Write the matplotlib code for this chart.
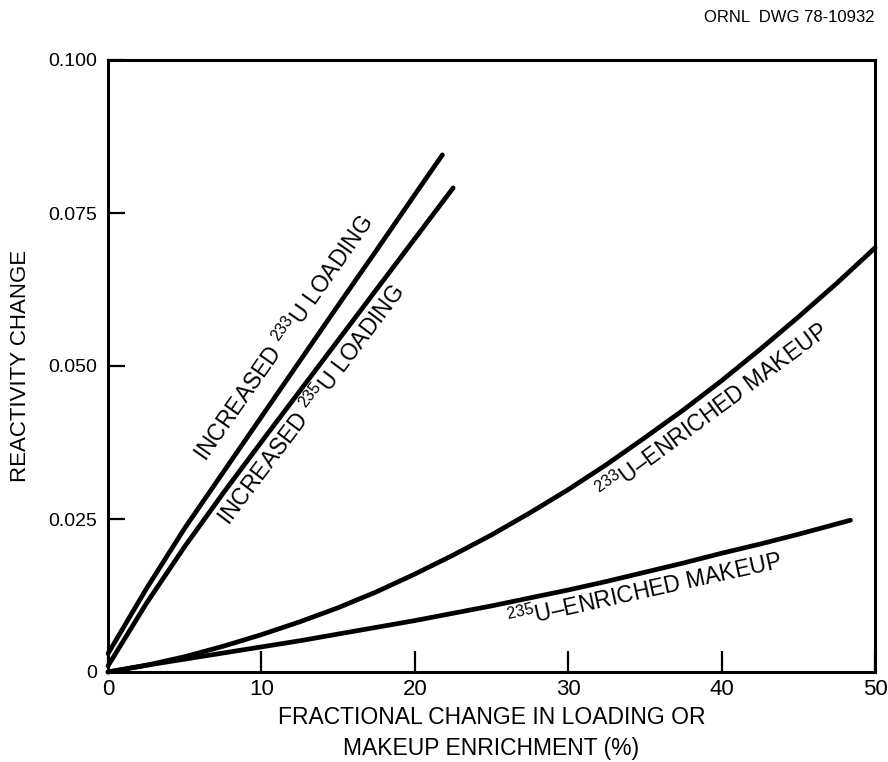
import matplotlib
matplotlib.use('Agg')
import matplotlib.pyplot as plt

# values
u233_load_x = [0, 2.5, 5, 7.5, 10, 12.5, 15, 17.5, 20, 21.8]
u233_load_y = [0.003, 0.0136, 0.0235, 0.0326, 0.0417, 0.0508, 0.0599, 0.0689, 0.0780, 0.0845]
u235_load_x = [0, 2.5, 5, 7.5, 10, 12.5, 15, 17.5, 20, 22.5]
u235_load_y = [0.001, 0.0112, 0.0205, 0.0292, 0.0376, 0.0459, 0.0542, 0.0625, 0.0708, 0.0791]
u233_mk_x = [0, 2.5, 5, 7.5, 10, 12.5, 15, 17.5, 20, 22.5, 25, 27.5, 30, 32.5,
             35, 37.5, 40, 42.5, 45, 47.5, 50]
u233_mk_y = [0, 0.0011, 0.0025, 0.0042, 0.0061, 0.0082, 0.0105, 0.0131, 0.0160,
             0.0191, 0.0224, 0.0260, 0.0298, 0.0339, 0.0383, 0.0428, 0.0476,
             0.0527, 0.0580, 0.0635, 0.0693]
u235_mk_x = [0, 2.5, 5, 7.5, 10, 12.5, 15, 17.5, 20, 22.5, 25, 27.5, 30, 32.5,
             35, 37.5, 40, 42.5, 45, 48.4]
u235_mk_y = [0, 0.0011, 0.0021, 0.0031, 0.0041, 0.0051, 0.0062, 0.0073, 0.0084,
             0.0096, 0.0108, 0.0121, 0.0134, 0.0148, 0.0163, 0.0178, 0.0194,
             0.0209, 0.0225, 0.0248]

x_ticks = [0, 10, 20, 30, 40, 50]
y_ticks = [0, 0.025, 0.050, 0.075, 0.100]
y_ticklabels = ['0', '0.025', '0.050', '0.075', '0.100']

plt.rcParams['font.family'] = ['Liberation Sans', 'DejaVu Sans']
plt.rcParams['mathtext.fontset'] = 'custom'
plt.rcParams['mathtext.rm'] = 'Liberation Sans'

fig = plt.figure(figsize=(8.88, 7.62), dpi=100)
ax = fig.add_axes([108 / 888, 1 - 672 / 762, (875 - 108) / 888, (672 - 60) / 762])

lw = 3.4
for xs, ys in [(u233_load_x, u233_load_y), (u235_load_x, u235_load_y),
               (u233_mk_x, u233_mk_y), (u235_mk_x, u235_mk_y)]:
    ax.plot(xs, ys, color='black', lw=lw, solid_capstyle='round',
            solid_joinstyle='round', clip_on=False)

ax.set_xlim(0, 50)
ax.set_ylim(0, 0.100)
ax.set_xticks(x_ticks)
ax.set_xticklabels([str(v) for v in x_ticks], fontsize=16)
ax.set_yticks(y_ticks)
ax.set_yticklabels(y_ticklabels, fontsize=14)
ax.tick_params(axis='x', direction='in', length=15, width=1.6, pad=5)
ax.tick_params(axis='y', direction='in', length=12, width=1.6, pad=8)
for s in ax.spines.values():
    s.set_linewidth(2.2)

ax.set_xlabel('FRACTIONAL CHANGE IN LOADING OR\nMAKEUP ENRICHMENT (%)',
              fontsize=16.5, linespacing=1.45, labelpad=4)
ax.set_ylabel('REACTIVITY CHANGE', fontsize=16, labelpad=12)

lab = dict(fontsize=16.5, ha='center', va='center', rotation_mode='anchor')
ax.text(11.5, 0.0545, r'INCREASED $^{233}$U LOADING', rotation=55, **lab)
ax.text(13.3, 0.0436, r'INCREASED $^{235}$U LOADING', rotation=53, **lab)
ax.text(39.4, 0.0425, r'$^{233}$U–ENRICHED MAKEUP', rotation=36.5, **lab)
ax.text(35.0, 0.0132, r'$^{235}$U–ENRICHED MAKEUP', rotation=12.5, **lab)

fig.text(875 / 888, 1 - 18 / 762, 'ORNL  DWG 78-10932', ha='right', va='center', fontsize=12)

fig.savefig('out.png', dpi=100)
